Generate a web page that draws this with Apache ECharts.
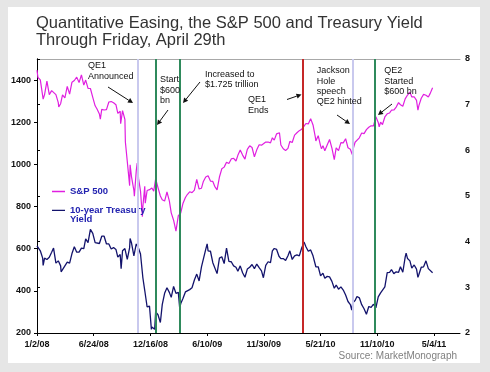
<!DOCTYPE html>
<html><head><meta charset="utf-8">
<script src="https://cdn.jsdelivr.net/npm/echarts@6/dist/echarts.min.js"></script>
<style>html,body{margin:0;padding:0;background:#e6e6e6}#c{width:490px;height:372px}</style>
</head><body><div id="c"></div>
<script>
// ---- DATA ----
// x positions are trading-day indices counted from 1/2/08
const tickLabels = ['1/2/08','6/24/08','12/16/08','6/10/09','11/30/09','5/21/10','11/10/10','5/4/11'];
const tickStep = 120;
const xMax = 895;

const spDays = [0,2,7,12,13,16,21,26,31,35,40,45,46,50,54,59,64,69,74,79,84,89,94,95,99,103,108,113,118,123,127,132,134,137,142,147,152,157,162,167,171,176,177,181,186,187,191,196,197,200,205,206,210,212,215,219,223,224,228,229,233,238,243,247,251,253,256,261,265,270,275,280,284,289,294,295,299,304,309,314,318,323,328,333,338,343,348,352,357,362,367,372,376,381,386,391,396,401,406,411,416,421,425,430,435,440,445,450,455,460,465,470,475,479,484,489,494,498,502,507,513,516,521,526,527,531,535,540,545,550,555,560,564,569,574,579,584,589,590,595,600,602,605,609,614,619,624,629,633,638,643,648,653,658,663,667,668,673,677,682,687,692,697,702,707,712,717,720,722,724,727,731,736,741,746,750,755,760,765,769,774,779,784,789,793,798,803,806,808,813,818,823,828,832,837];
const spValues = [1447,1412,1401,1325,1310,1331,1395,1331,1350,1353,1331,1293,1273,1288,1330,1315,1370,1333,1390,1398,1414,1388,1425,1427,1376,1400,1361,1360,1318,1278,1263,1239,1215,1261,1258,1260,1296,1298,1292,1283,1242,1252,1193,1255,1213,1106,1099,899,998,941,877,849,969,1006,931,873,752,800,896,816,876,880,888,873,932,935,890,850,832,826,869,827,770,735,683,677,757,769,816,843,857,870,866,878,929,883,887,919,940,946,921,919,896,879,940,979,987,1010,1004,1026,1029,1016,1043,1068,1044,1025,1071,1088,1080,1036,1069,1093,1091,1091,1106,1106,1102,1126,1115,1145,1150,1092,1074,1066,1057,1076,1109,1104,1139,1150,1160,1167,1178,1194,1192,1217,1187,1128,1111,1136,1088,1074,1089,1065,1092,1118,1077,1023,1078,1065,1103,1102,1122,1079,1072,1047,1065,1105,1110,1126,1149,1146,1165,1176,1183,1183,1226,1218,1199,1178,1200,1189,1225,1240,1244,1257,1258,1272,1293,1283,1276,1311,1329,1343,1320,1321,1304,1257,1279,1314,1332,1328,1320,1337,1364];

const tyDays = [0,2,7,12,13,16,21,26,31,35,40,45,50,51,54,59,64,69,74,79,84,89,94,99,103,108,113,118,123,127,132,137,142,147,152,157,162,167,171,176,178,181,186,191,196,197,200,205,210,215,219,224,228,233,238,242,243,247,249,251,256,261,265,270,275,280,284,289,294,299,302,304,309,314,318,323,328,333,338,343,348,352,357,360,362,367,372,376,381,386,391,396,401,406,411,416,421,425,430,435,440,445,450,455,460,465,470,475,479,484,489,494,498,502,507,512,516,521,526,531,535,540,545,550,555,560,564,565,569,574,579,584,590,595,600,605,609,614,619,624,629,633,638,643,648,653,658,663,666,668,673,677,682,687,692,697,702,707,712,717,722,727,731,736,741,746,750,755,760,765,769,774,779,781,784,789,793,798,803,806,808,813,818,823,828,832,837];
const tyValues = [3.91,3.88,3.80,3.64,3.48,3.64,3.61,3.66,3.77,3.86,3.53,3.58,3.47,3.34,3.33,3.47,3.55,3.53,3.74,3.89,3.77,3.77,3.86,3.85,4.06,3.98,4.27,4.18,3.98,3.98,3.96,4.12,4.12,3.95,3.95,3.84,3.87,3.83,3.66,3.72,3.41,3.80,3.85,3.61,3.87,4.07,3.97,3.69,3.95,3.85,3.73,3.21,2.93,2.57,2.59,2.08,2.13,2.14,2.08,2.46,2.40,2.23,2.62,2.87,2.99,2.89,2.78,3.02,2.87,2.89,2.54,2.64,2.76,2.90,2.92,2.95,2.99,3.16,3.29,3.14,3.45,3.47,3.83,3.95,3.80,3.79,3.54,3.50,3.30,3.64,3.67,3.52,3.86,3.57,3.56,3.47,3.44,3.35,3.47,3.32,3.22,3.40,3.44,3.50,3.41,3.51,3.43,3.36,3.21,3.48,3.56,3.54,3.80,3.85,3.83,3.68,3.63,3.63,3.59,3.69,3.80,3.61,3.69,3.71,3.69,3.86,3.89,3.99,3.89,3.79,3.82,3.69,3.45,3.45,3.25,3.31,3.20,3.24,3.23,3.13,2.98,3.05,2.96,3.01,2.94,2.83,2.69,2.62,2.50,2.66,2.71,2.80,2.77,2.62,2.53,2.41,2.58,2.56,2.63,2.55,2.79,2.88,2.87,3.01,3.32,3.33,3.39,3.30,3.34,3.33,3.45,3.33,3.66,3.75,3.63,3.58,3.42,3.49,3.40,3.22,3.28,3.44,3.45,3.58,3.41,3.40,3.32];

const eventDays = [213, 252, 302, 563, 668, 715];
const eventNotes = ['QE1\nAnnounced','Start\n$600\nbn','Increased to\n$1.725 trillion','QE1\nEnds','Jackson\nHole\nspeech\nQE2 hinted','QE2\nStarted\n$600 bn'];

// ---- STYLE / LAYOUT ----
const FONT = '"Liberation Sans", Arial, sans-serif';
const eventColors = ['#c9c9ee','#2f8a5c','#2f8a5c','#c62828','#c9c9ee','#2f8a5c'];
const notePos = [
  {x:88, y:60.5, from:[108,87], to:[133,103]},
  {x:160, y:74.8, from:[168,110], to:[157,125]},
  {x:205, y:69, from:[200,82], to:[183,103]},
  {x:248, y:94.7, from:[287,99.5], to:[301.5,94.5]},
  {x:316.7, y:65.5, from:[337,115], to:[350,124]},
  {x:384.3, y:65.5, from:[392,104], to:[378,115]}
];

const spData = spDays.map((d, i) => [d, spValues[i]]);
const tyData = tyDays.map((d, i) => [d, tyValues[i]]);

const graphics = [
  {type:'rect', z:-10, silent:true, shape:{x:8, y:7, width:472, height:356}, style:{fill:'#ffffff'}}
];
eventNotes.forEach((t, i) => {
  const p = notePos[i];
  graphics.push({type:'text', z:10, x:p.x, y:p.y, style:{text:t, font:'9px ' + FONT, fill:'#111', lineHeight:10.4, verticalAlign:'top'}});
  const dx = p.to[0]-p.from[0], dy = p.to[1]-p.from[1];
  const L = Math.sqrt(dx*dx+dy*dy), ux = dx/L, uy = dy/L, nx = -uy, ny = ux;
  const hl = 5, hw = 2.6;
  const bx = p.to[0]-ux*hl, by = p.to[1]-uy*hl;
  graphics.push({type:'line', z:10, shape:{x1:p.from[0], y1:p.from[1], x2:bx, y2:by}, style:{stroke:'#111', lineWidth:1}});
  graphics.push({type:'polygon', z:10, shape:{points:[[p.to[0],p.to[1]],[bx+nx*hw,by+ny*hw],[bx-nx*hw,by-ny*hw]]}, style:{fill:'#111'}});
});
graphics.push({type:'text', z:10, x:457, y:356.5, style:{text:'Source: MarketMonograph', align:'right', verticalAlign:'middle', font:'10px ' + FONT, fill:'#808080'}});

const axisLbl = {fontFamily:FONT, fontSize:9, fontWeight:'bold', color:'#111'};

const option = {
  animation:false,
  backgroundColor:'#e6e6e6',
  title:{
    text:'Quantitative Easing, the S&P 500 and Treasury Yield\nThrough Friday, April 29th',
    left:36, top:15.5, padding:0,
    textStyle:{fontFamily:FONT, fontSize:16.5, fontWeight:'normal', color:'#333', lineHeight:16.5}
  },
  grid:{left:37, right:30, top:59, bottom:39},
  legend:[
    {data:['S&P 500'], left:52, top:186.5, padding:0, icon:'rect', itemWidth:13, itemHeight:1.5, itemGap:4,
     textStyle:{fontFamily:FONT, fontSize:9.5, fontWeight:'bold', color:'#2323b0', lineHeight:10}},
    {data:['10-year Treasury Yield'], left:52, top:205, padding:0,
     icon:'path://M0,0h0.01v0.01h-0.01z M0,4.2h14v1.4h-14z M0,19h0.01v0.01h-0.01z', itemWidth:13, itemHeight:19, itemGap:4,
     formatter:()=> '10-year Treasury\nYield',
     textStyle:{fontFamily:FONT, fontSize:9.5, fontWeight:'bold', color:'#2323b0', lineHeight:9.5}}
  ],
  xAxis:[
    {type:'value', min:0, max:xMax, interval:tickStep, position:'bottom',
     axisLine:{show:true, lineStyle:{color:'#000', width:1}},
     axisTick:{show:true, length:3, lineStyle:{color:'#000'}},
     splitLine:{show:false},
     axisLabel:Object.assign({margin:7, showMaxLabel:false, formatter:v => (v % tickStep === 0 ? (tickLabels[v/tickStep] || '') : '')}, axisLbl)},
    {type:'value', min:0, max:1, position:'top',
     axisLine:{show:true, lineStyle:{color:'#a8a8a8', width:1}},
     axisTick:{show:false}, axisLabel:{show:false}, splitLine:{show:false}}
  ],
  yAxis:[
    {type:'value', min:200, max:1500, interval:200, position:'left',
     axisLine:{show:true, lineStyle:{color:'#000', width:1}},
     axisTick:{show:true, length:3, lineStyle:{color:'#000'}},
     splitLine:{show:false},
     axisLabel:Object.assign({margin:6, showMaxLabel:false, formatter:v => String(v)}, axisLbl)},
    {type:'value', min:2, max:8, interval:1, position:'right',
     axisLine:{show:true, lineStyle:{color:'#000', width:1}},
     axisTick:{show:true, length:3, lineStyle:{color:'#000'}},
     splitLine:{show:false},
     axisLabel:Object.assign({margin:5}, axisLbl)}
  ],
  series:[
    {name:'S&P 500', type:'line', xAxisIndex:0, yAxisIndex:0, data:spData, showSymbol:false, symbol:'none',
     lineStyle:{color:'#e01fe0', width:1.2}, itemStyle:{color:'#e01fe0'}, z:3},
    {name:'10-year Treasury Yield', type:'line', xAxisIndex:0, yAxisIndex:1, data:tyData, showSymbol:false, symbol:'none',
     lineStyle:{color:'#13136c', width:1.3}, itemStyle:{color:'#13136c'}, z:3,
     markLine:{silent:true, symbol:['none','none'], label:{show:false},
       data:eventDays.map((d, i) => ({xAxis:d, lineStyle:{color:eventColors[i], width:2, type:'solid'}}))}}
  ],
  graphic:graphics
};
const chart = echarts.init(document.getElementById('c'));
chart.setOption(option);
</script></body></html>
